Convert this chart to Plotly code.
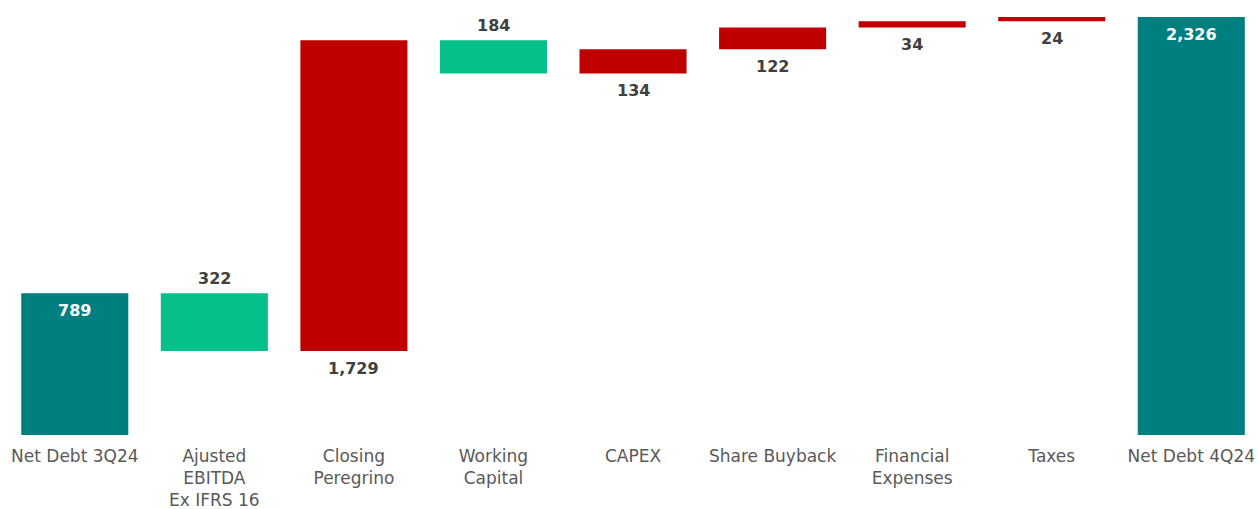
import plotly.graph_objects as go

categories = ["Net Debt 3Q24", "Ajusted<br>EBITDA<br>Ex IFRS 16", "Closing<br>Peregrino",
              "Working<br>Capital", "CAPEX", "Share Buyback", "Financial<br>Expenses",
              "Taxes", "Net Debt 4Q24"]
measures = ["absolute", "relative", "relative", "relative", "relative", "relative",
            "relative", "relative", "total"]
values = [789, -322, 1729, -184, 134, 122, 34, 24, 0]
labels = ["789", "322", "1,729", "184", "134", "122", "34", "24", "2,326"]

TEAL = "#007F80"
GREEN = "#05C08A"
RED = "#C00000"
NUMFONT = "DejaVu Sans"

fig = go.Figure(go.Waterfall(
    x=categories, y=values, measure=measures,
    increasing=dict(marker=dict(color=RED)),
    decreasing=dict(marker=dict(color=GREEN)),
    totals=dict(marker=dict(color=TEAL)),
    connector=dict(visible=False),
    textinfo="none", hoverinfo="skip",
))

annotations = []
running = 0
for i, (m, v) in enumerate(zip(measures, values)):
    if m == "absolute":
        lo, hi = 0, v
        running = v
        kind = "total"
    elif m == "total":
        lo, hi = 0, running
        kind = "total"
    else:
        lo, hi = sorted([running, running + v])
        running += v
        kind = "inc" if v > 0 else "dec"
    if kind == "total":
        annotations.append(dict(x=categories[i], y=hi, text=labels[i], showarrow=False,
                                yanchor="top", yshift=-6,
                                font=dict(color="white", size=16, family=NUMFONT, weight="bold")))
    elif kind == "dec":
        annotations.append(dict(x=categories[i], y=hi, text=labels[i], showarrow=False,
                                yanchor="bottom", yshift=3,
                                font=dict(color="#404040", size=16, family=NUMFONT, weight="bold")))
    else:
        annotations.append(dict(x=categories[i], y=lo, text=labels[i], showarrow=False,
                                yanchor="top", yshift=-6,
                                font=dict(color="#404040", size=16, family=NUMFONT, weight="bold")))

fig.update_layout(
    width=1258, height=509,
    margin=dict(l=5, r=0, t=17, b=74),
    paper_bgcolor="white", plot_bgcolor="white",
    showlegend=False, waterfallgap=0.233,
    annotations=annotations,
    xaxis=dict(showgrid=False, zeroline=False, showline=False, ticks="",
               range=[-0.5, 8.478], ticklabelstandoff=9, automargin=False,
               tickfont=dict(color="#595959", size=17, family="DejaVu Sans")),
    yaxis=dict(visible=False, range=[0, 2326], showgrid=False, zeroline=False,
               automargin=False),
)

fig.write_html("out.html", config={"displayModeBar": False},
               post_script="document.body.style.margin='0';")
